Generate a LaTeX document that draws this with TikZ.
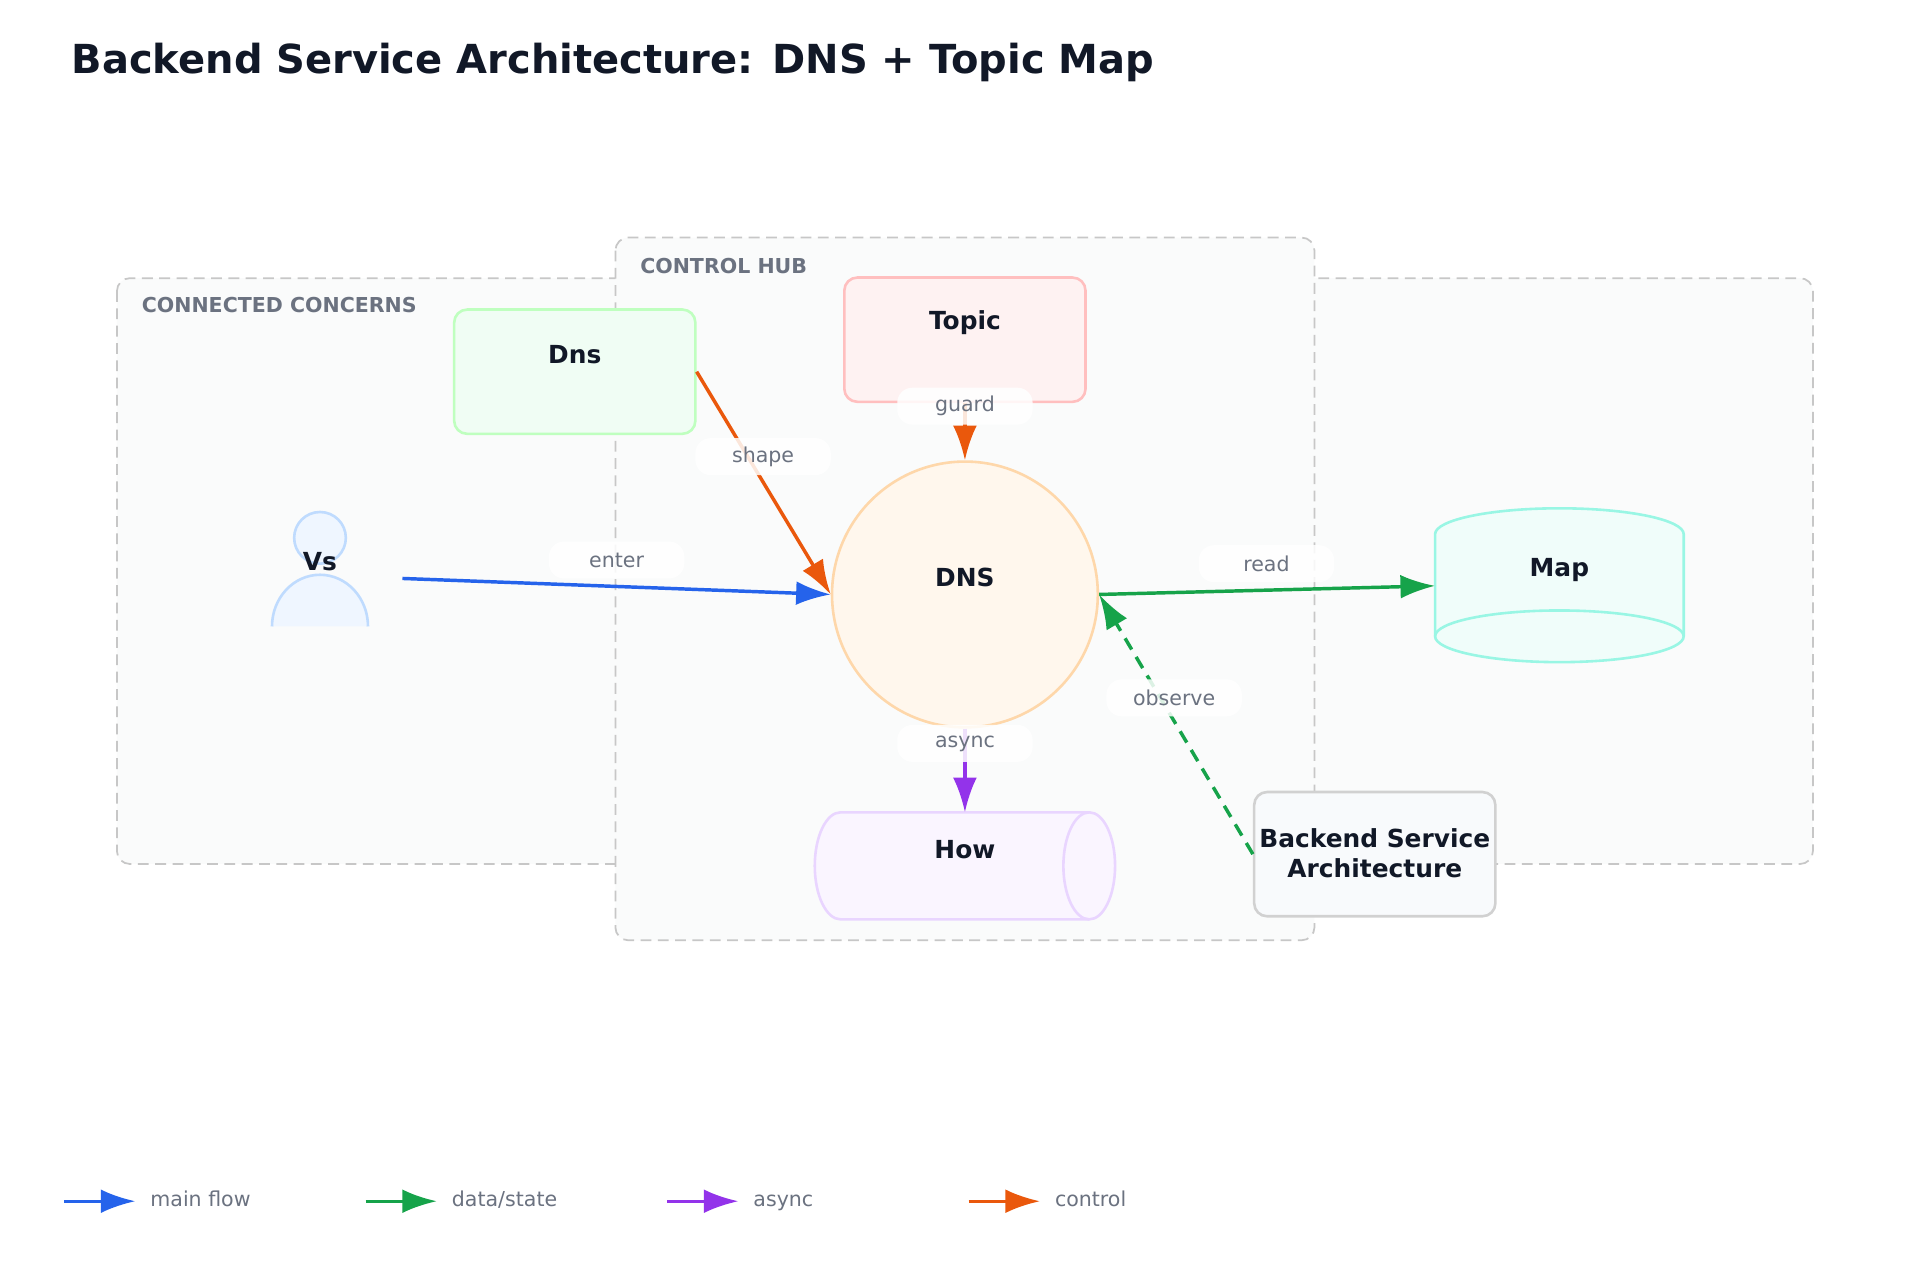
\documentclass[tikz,border=0pt]{standalone}
\usepackage{fontspec}
\setmainfont{DejaVu Sans}
\usetikzlibrary{arrows.meta,shapes.geometric,positioning}
\definecolor{cBlue}{HTML}{2563EB}
\definecolor{cGreen}{HTML}{16A34A}
\definecolor{cPurple}{HTML}{9333EA}
\definecolor{cOrange}{HTML}{EA580C}
\definecolor{cInk}{HTML}{111827}
\definecolor{cMuted}{HTML}{6B7280}
\tikzset{
  grp/.style={draw=black!22,dash pattern=on 5pt off 3pt,fill={rgb,255:red,250;green,251;blue,251},rounded corners=6pt,line width=0.8pt},
  grptxt/.style={anchor=west,text=cMuted,font=\bfseries\fontsize{9.5}{11}\selectfont},
  box/.style={draw=#1,rounded corners=6pt,line width=1.2pt,minimum width=3.92cm,minimum height=2.02cm},
  lbl/.style={text=cInk,font=\bfseries\fontsize{11.5}{14}\selectfont,align=center},
  elbl/.style={fill=white,fill opacity=0.85,text opacity=1,rounded corners=7pt,text=cMuted,
    font=\fontsize{9.5}{11}\selectfont,minimum width=2.2cm,minimum height=0.6cm},
  arr/.style={-{Latex[length=16pt,width=11pt]},line width=1.6pt,draw=#1,color=#1},
}
\begin{document}
\begin{tikzpicture}[x=0.02cm,y=-0.02cm]
  \useasboundingbox[fill=white] (0,0) rectangle (1560,1040);
  %titre
  \node[anchor=west,text=cInk,font=\bfseries\fontsize{18.5}{22}\selectfont] (title) at (52,51) {Backend Service Architecture: DNS + Topic Map};
  %groupes
  \draw[grp] (95,226) rectangle (1473,702);
  \draw[grp] (500,193) rectangle (1068,764);
  \node[grptxt] (gconn) at (109,248) {CONNECTED CONCERNS};
  \node[grptxt] (ghub) at (514,216) {CONTROL HUB};
  %noeuds
  \node[box=green!25,fill={rgb,255:red,240;green,253;blue,244}] (dns) at (467,302) {};
  \node[lbl] at (467,288) {Dns};
  \node[box=red!25,fill={rgb,255:red,254;green,242;blue,242}] (topic) at (784,276) {};
  \node[lbl] at (784,262) {Topic};
  \node[circle,draw={rgb,255:red,254;green,215;blue,170},fill={rgb,255:red,255;green,247;blue,237},line width=1.2pt,minimum size=4.32cm] (core) at (784,483) {};
  \node[lbl] at (784,469) {DNS};
  \node[box=black!18,fill={rgb,255:red,248;green,250;blue,252}] (back) at (1117,694) {};
  \node[lbl] at (1117,693) {Backend Service\\Architecture};
  %Map cylindre
  \draw[draw={rgb,255:red,153;green,246;blue,228},fill={rgb,255:red,240;green,253;blue,250},line width=1.2pt]
    (1166,434) -- (1166,517) arc[start angle=180,end angle=0,x radius=101,y radius=21] -- (1368,434)
    arc[start angle=0,end angle=-180,x radius=101,y radius=21];
  \draw[draw={rgb,255:red,153;green,246;blue,228},line width=1.2pt] (1166,517) arc[start angle=180,end angle=360,x radius=101,y radius=21];
  \coordinate (mapW) at (1166,476);
  \node[lbl] (map) at (1267,463) {Map};
  %How cylindre
  \draw[draw={rgb,255:red,233;green,213;blue,255},fill={rgb,255:red,250;green,245;blue,255},line width=1.2pt]
    (885,660) -- (683,660) arc[start angle=270,end angle=90,x radius=21,y radius=43.5] -- (885,747)
    arc[start angle=90,end angle=-90,x radius=21,y radius=43.5];
  \draw[draw={rgb,255:red,233;green,213;blue,255},line width=1.2pt] (885,660) arc[start angle=270,end angle=90,x radius=21,y radius=43.5];
  \coordinate (howN) at (784,660);
  \node[lbl] (how) at (784,690) {How};
  %acteur
  \draw[draw={rgb,255:red,191;green,219;blue,254},fill={rgb,255:red,239;green,246;blue,255},line width=1.2pt]
    (260,437) circle[radius=21];
  \draw[draw={rgb,255:red,191;green,219;blue,254},fill={rgb,255:red,239;green,246;blue,255},line width=1.2pt]
    (221,509) arc[start angle=180,end angle=360,x radius=39,y radius=42];
  \node[lbl] (vs) at (260,456) {Vs};
  \coordinate (vsE) at (327,470);
  %fleches
  \draw[arr=cBlue] (vsE) -- (core.west);
  \draw[arr=cOrange] (dns.east) -- (core.west);
  \draw[arr=cOrange] (topic.south) -- (core.north);
  \draw[arr=cPurple] (core.south) -- (howN);
  \draw[arr=cGreen] (core.east) -- (mapW);
  \draw[arr=cGreen,dash pattern=on 6pt off 4pt] (back.west) -- (core.east);
  \node[elbl] (l1) at (501,455) {enter};
  \node[elbl] (l2) at (620,371) {shape};
  \node[elbl] (l3) at (784,330) {guard};
  \node[elbl] (l4) at (784,604) {async};
  \node[elbl] (l5) at (1029,458) {read};
  \node[elbl] (l6) at (954,567) {observe};
  %legende
  \foreach \x/\c/\t in {52/cBlue/{main flow},297/cGreen/{data/state},542/cPurple/{async},787/cOrange/{control}}{
    \coordinate (a\x) at (\x,976);
    \coordinate (b\x) at (\x+58,976);
    \draw[arr=\c] (a\x) -- (b\x);
    \node[anchor=west,text=cMuted,font=\fontsize{9.5}{11}\selectfont,text height=7pt,text depth=2pt] at (\x+64,976) {\t};
  }
\end{tikzpicture}
\end{document}
